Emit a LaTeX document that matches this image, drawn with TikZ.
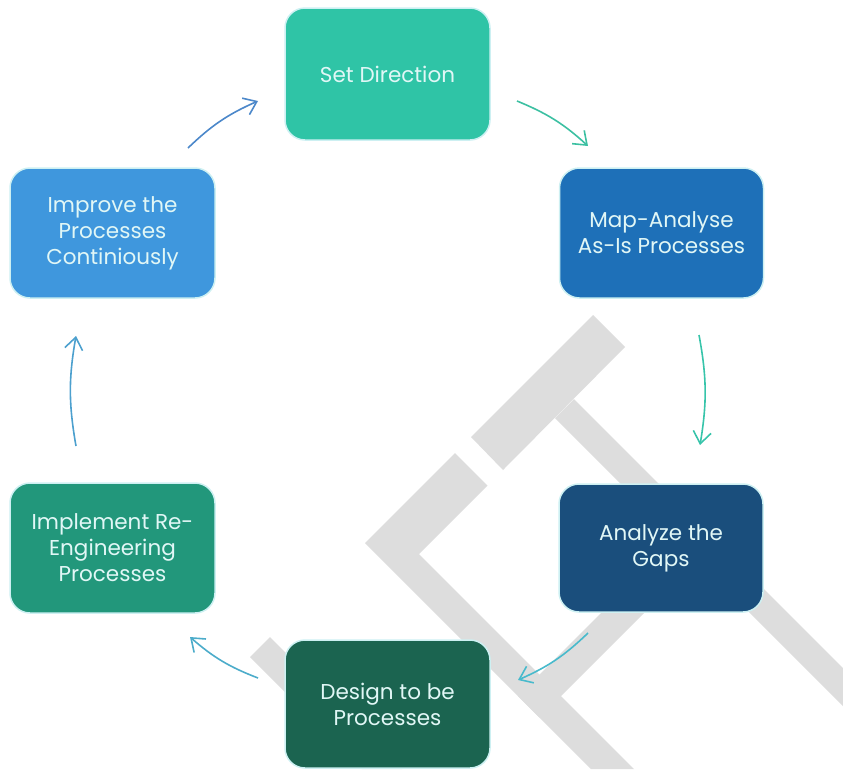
\documentclass[tikz,border=0pt]{standalone}
\usepackage{fontspec}
\setmainfont{Poppins}
\usetikzlibrary{arrows.meta}
\definecolor{wm}{RGB}{221,221,221}
\definecolor{boxedge}{RGB}{205,240,242}
\definecolor{boxtext}{RGB}{225,247,246}
\definecolor{cset}{RGB}{47,196,166}
\definecolor{cmap}{RGB}{30,112,184}
\definecolor{cgaps}{RGB}{26,78,124}
\definecolor{cdesign}{RGB}{27,100,80}
\definecolor{cimpl}{RGB}{34,151,123}
\definecolor{cimpr}{RGB}{63,151,221}
\definecolor{ar1}{RGB}{60,192,162}
\definecolor{ar2}{RGB}{55,196,170}
\definecolor{ar3}{RGB}{72,186,204}
\definecolor{ar4}{RGB}{76,172,202}
\definecolor{ar5}{RGB}{76,160,206}
\definecolor{ar6}{RGB}{76,136,202}
\begin{document}
\begin{tikzpicture}[x=1pt,y=-1pt,
  box/.style={rectangle, draw=boxedge, line width=1.5pt, rounded corners=20pt,
    text=boxtext, align=center, font=\fontsize{21.5}{26}\selectfont,
    minimum width=204pt, minimum height=130pt, inner sep=0pt},
  flow/.style={line width=1.6pt, -{Straight Barb[length=12pt,width=18pt]}, bend left=10}]
\useasboundingbox (0,0) rectangle (843,769);
% watermark
\fill[wm] (471,437) -- (593,315) -- (625,347) -- (503,470) -- cycle;
\fill[wm] (555,418) -- (574,399) -- (843,668) -- (843,706) -- cycle;
\fill[wm] (455,453) -- (487.5,485.5) -- (419,554) -- (634,769) -- (591,769) -- (365,543) -- cycle;
\fill[wm] (518,696) -- (687,527) -- (708.5,548.5) -- (539.5,717.5) -- cycle;
\fill[wm] (250,657) -- (270,637) -- (402,769) -- (362,769) -- cycle;
% boxes
\node[box, fill=cset, minimum width=205pt, minimum height=132pt] (set) at (387.5,74) {Set Direction};
\node[box, fill=cmap] (map) at (661.5,233) {Map-Analyse\\As-Is Processes};
\node[box, fill=cgaps, minimum height=128pt] (gaps) at (661,548) {Analyze the\\Gaps};
\node[box, fill=cdesign, minimum width=205pt, minimum height=128pt] (design) at (387.5,704) {Design to be\\Processes};
\node[box, fill=cimpl, minimum width=205pt] (impl) at (112.5,548) {Implement Re-\\Engineering\\Processes};
\node[box, fill=cimpr, minimum width=205pt] (impr) at (112.5,233) {Improve the\\Processes\\Continiously};
% arrow ends
\coordinate (a1s) at (517,101); \coordinate (a1e) at (588,146);
\coordinate (a2s) at (699,335); \coordinate (a2e) at (700,445);
\coordinate (a3s) at (588,633); \coordinate (a3e) at (518,680);
\coordinate (a4s) at (258,678); \coordinate (a4e) at (190,637);
\coordinate (a5s) at (76,446);  \coordinate (a5e) at (76,336);
\coordinate (a6s) at (188,148); \coordinate (a6e) at (258,101);
\draw[flow, ar1] (a1s) to (a1e);
\draw[flow, ar2] (a2s) to (a2e);
\draw[flow, ar3] (a3s) to (a3e);
\draw[flow, ar4] (a4s) to (a4e);
\draw[flow, ar5] (a5s) to (a5e);
\draw[flow, ar6] (a6s) to (a6e);
\end{tikzpicture}
\end{document}
